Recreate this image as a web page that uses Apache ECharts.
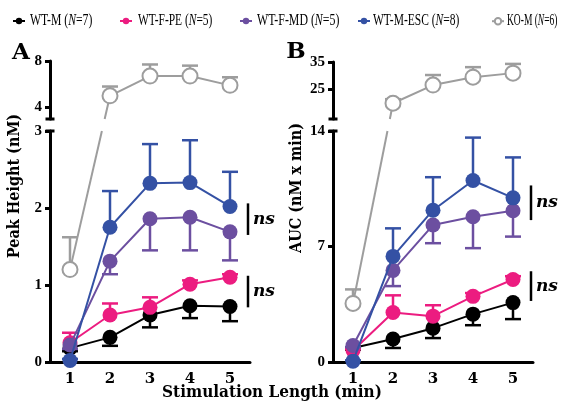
<!DOCTYPE html>
<html>
<head>
<meta charset="UTF-8">
<title>Peak height and AUC</title>
<script type="text/javascript" src="https://cdn.jsdelivr.net/npm/echarts@6/dist/echarts.min.js"></script>
</head>
<body style="margin:0;background:#fff">
<div id="box" style="width:561px;height:405px;"></div>

<script type="text/javascript">
var cats=['1','2','3','4','5'];
var names=['WT-M','WT-F-PE','WT-F-MD','WT-M-ESC','KO-M'];
var groupN=['7','5','5','8','6'];
var colors=['#000000','#ec1c80','#6c4fa0','#3451a4','#9d9d9d'];
// error bars are one-sided: -1 below the mean, 1 above
var errDir=[-1,1,-1,1,1];

// panel A: peak height (nM)
var peakWtM=[0.18,0.32,0.61,0.73,0.72];
var peakWtFPe=[0.25,0.61,0.71,1.01,1.10];
var peakWtFMd=[0.22,1.31,1.86,1.88,1.69];
var peakWtMEsc=[0.02,1.75,2.32,2.33,2.02];
var peakKoM=[1.2,5.0,6.7,6.7,5.9];
var peakWtMErr=[0.04,0.11,0.16,0.16,0.19];
var peakWtFPeErr=[0.13,0.15,0.13,0.05,0.04];
var peakWtFMdErr=[0.05,0.17,0.41,0.43,0.37];
var peakWtMEscErr=[0.02,0.47,0.51,0.55,0.45];
var peakKoMErr=[0.42,0.8,1.0,0.9,0.7];

// panel B: AUC (nM x min)
var aucWtM=[0.85,1.39,2.05,2.9,3.6];
var aucWtFPe=[0.7,3.0,2.78,3.98,5.0];
var aucWtFMd=[1.0,5.55,8.3,8.8,9.17];
var aucWtMEsc=[0.05,6.4,9.2,11.0,9.95];
var aucKoM=[3.55,19.8,26.5,29.4,30.9];
var aucWtMErr=[0.1,0.54,0.6,0.67,1.0];
var aucWtFPeErr=[0.1,1.04,0.66,0.2,0.2];
var aucWtFMdErr=[0.1,0.95,1.1,1.9,1.57];
var aucWtMEscErr=[0.05,1.7,2.0,2.6,2.45];
var aucKoMErr=[0.85,1.5,3.7,3.7,3.4];

// axis breaks: [lower max, upper min, upper max]
var peakBreak=[3,3,8];
var aucBreak=[14,14,35];
var peakUpperTicks=[4,8];
var aucUpperTicks=[25,35];
var peakLowerInterval=1;
var aucLowerInterval=7;

// "ns" brackets: [low, high] at the right of the last point
var peakNs=[[1.65,2.06],[0.71,1.12]];
var aucNs=[[8.6,10.7],[3.7,5.5]];

var serif='"DejaVu Serif", serif';
var serifC='"DejaVu Serif Condensed", "DejaVu Serif", serif';
var times='"Liberation Serif", serif';

var mychart=echarts.init(document.getElementById('box'));

function lineSeries(i,data,grid,z){
  var gray=(i==4);
  return {
    name:names[i],type:'line',xAxisIndex:grid,yAxisIndex:grid,
    data:data,symbol:'circle',symbolSize:15,z:z,
    connectNulls:false,
    lineStyle:{color:colors[i],width:2},
    itemStyle:gray?{color:'#ffffff',borderColor:colors[i],borderWidth:2}:{color:colors[i]}
  };
}

function errSeries(i,means,errs,grid,z){
  var d=[];
  for(var k=0;k<means.length;k++){
    if(means[k]!=null) d.push([k,means[k],errs[k]]);
  }
  return {
    type:'custom',xAxisIndex:grid,yAxisIndex:grid,z:z,silent:true,
    data:d,
    renderItem:function(params,api){
      var x=api.value(0),m=api.value(1),e=api.value(2);
      var p0=api.coord([x,m]);
      var p1=api.coord([x,m+errDir[i]*e]);
      var st={stroke:colors[i],lineWidth:2.5};
      return {type:'group',children:[
        {type:'line',shape:{x1:p0[0],y1:p0[1],x2:p1[0],y2:p1[1]},style:st},
        {type:'line',shape:{x1:p1[0]-8,y1:p1[1],x2:p1[0]+8,y2:p1[1]},style:st}
      ]};
    }
  };
}

function splitUpper(arr){ return arr.map(function(v,k){return k==0?null:v;}); }
function splitLower(arr){ return arr.map(function(v,k){return k==0?v:null;}); }

var peakSets=[peakWtM,peakWtFPe,peakWtFMd,peakWtMEsc];
var peakErrs=[peakWtMErr,peakWtFPeErr,peakWtFMdErr,peakWtMEscErr];
var aucSets=[aucWtM,aucWtFPe,aucWtFMd,aucWtMEsc];
var aucErrs=[aucWtMErr,aucWtFPeErr,aucWtFMdErr,aucWtMEscErr];

var series=[];
// panel A, grids 0 (upper) and 1 (lower)
for(var i=0;i<4;i++){
  series.push(errSeries(i,peakSets[i],peakErrs[i],1,1+i*2));
  series.push(lineSeries(i,peakSets[i],1,2+i*2));
}
series.push(errSeries(4,splitLower(peakKoM),peakKoMErr,1,11));
series.push(lineSeries(4,splitLower(peakKoM),1,12));
series.push(errSeries(4,splitUpper(peakKoM),peakKoMErr,0,11));
series.push(lineSeries(4,splitUpper(peakKoM),0,12));
// panel B, grids 2 (upper) and 3 (lower)
for(var i=0;i<4;i++){
  series.push(errSeries(i,aucSets[i],aucErrs[i],3,1+i*2));
  series.push(lineSeries(i,aucSets[i],3,2+i*2));
}
series.push(errSeries(4,splitLower(aucKoM),aucKoMErr,3,11));
series.push(lineSeries(4,splitLower(aucKoM),3,12));
series.push(errSeries(4,splitUpper(aucKoM),aucKoMErr,2,11));
series.push(lineSeries(4,splitUpper(aucKoM),2,12));

function xAxis(grid,show){
  return {
    type:'category',gridIndex:grid,data:cats,boundaryGap:true,show:show,
    axisLine:{lineStyle:{color:'#000',width:3}},
    axisTick:{alignWithLabel:true,length:6,lineStyle:{color:'#000',width:3}},
    axisLabel:{color:'#000',fontFamily:serif,fontWeight:'bold',fontSize:15,margin:10},
    splitLine:{show:false}
  };
}
function upperY(grid,br,ticks){
  return {
    type:'value',gridIndex:grid,min:br[1],max:br[2],
    axisLine:{show:true,lineStyle:{color:'#000',width:3},symbol:['rect','none'],symbolSize:[9,3]},
    axisTick:{show:true,length:5,customValues:ticks,lineStyle:{color:'#000',width:3}},
    axisLabel:{customValues:ticks,color:'#000',fontFamily:times,fontWeight:'bold',fontSize:15,margin:8},
    splitLine:{show:false}
  };
}
function lowerY(grid,br,iv){
  return {
    type:'value',gridIndex:grid,min:0,max:br[0],interval:iv,
    axisLine:{show:true,lineStyle:{color:'#000',width:3},symbol:['none','rect'],symbolSize:[9,3]},
    axisTick:{show:true,length:5,lineStyle:{color:'#000',width:3}},
    axisLabel:{color:'#000',fontFamily:times,fontWeight:'bold',fontSize:15,margin:8},
    splitLine:{show:false}
  };
}

// legend: icons from the legend component, condensed labels drawn beside them
var legendLeft=[12,119,239,357,491];
var legendTextLeft=[30,138,257,373,507];
var legendTextWidth=[63,75,83,87,51];
var legends=names.map(function(n,i){
  return {
    data:[n],left:legendLeft[i],top:17,padding:0,itemWidth:12,itemHeight:8,itemGap:0,
    selectedMode:false,formatter:function(){ return ''; },
    textStyle:{fontSize:1}
  };
});

mychart.setOption({
  animation:false,
  backgroundColor:'#ffffff',
  legend:legends,
  grid:[
    {left:50,top:61,width:200,height:58},
    {left:50,top:131,width:200,height:231},
    {left:333,top:62,width:200,height:57},
    {left:333,top:131,width:200,height:231}
  ],
  xAxis:[xAxis(0,false),xAxis(1,true),xAxis(2,false),xAxis(3,true)],
  yAxis:[upperY(0,peakBreak,peakUpperTicks),lowerY(1,peakBreak,peakLowerInterval),
         upperY(2,aucBreak,aucUpperTicks),lowerY(3,aucBreak,aucLowerInterval)],
  series:series
});

// pieces placed with the chart's own scales
function px(grid,x,y){ return mychart.convertToPixel({gridIndex:grid},[x,y]); }

function bridge(loGrid,upGrid,arr,br){
  var a=px(loGrid,0,arr[0]);
  var b=px(upGrid,1,arr[1]);
  var yLoTop=px(loGrid,0,br[0])[1];
  var yUpBot=px(upGrid,0,br[1])[1];
  function xAt(y){ return a[0]+(b[0]-a[0])*(a[1]-y)/(a[1]-b[1]); }
  var st={stroke:colors[4],lineWidth:2};
  return [
    {type:'line',z:1,shape:{x1:a[0],y1:a[1],x2:xAt(yLoTop),y2:yLoTop},style:st},
    {type:'line',z:1,shape:{x1:xAt(yUpBot),y1:yUpBot,x2:b[0],y2:b[1]},style:st}
  ];
}

function nsMark(grid,range){
  var lo=px(grid,4,range[0]),hi=px(grid,4,range[1]);
  var x=lo[0]+18;
  return [
    {type:'line',z:20,shape:{x1:x,y1:lo[1],x2:x,y2:hi[1]},style:{stroke:'#000',lineWidth:2.5}},
    {type:'text',z:20,x:x+5,y:(lo[1]+hi[1])/2,
      style:{text:'ns',fill:'#000',font:'italic bold 17px '+serif,
        textAlign:'left',textVerticalAlign:'middle',align:'left',verticalAlign:'middle'}}
  ];
}

function txt(x,y,s,font,rot){
  return {type:'text',x:x,y:y,rotation:rot||0,z:20,
    style:{text:s,fill:'#000',font:font,textAlign:'center',textVerticalAlign:'middle',
      align:'center',verticalAlign:'middle'}};
}

var g=[];
g=g.concat(bridge(1,0,peakKoM,peakBreak));
g=g.concat(bridge(3,2,aucKoM,aucBreak));
g=g.concat(nsMark(1,peakNs[0]),nsMark(1,peakNs[1]));
g=g.concat(nsMark(3,aucNs[0]),nsMark(3,aucNs[1]));
g.push(txt(21,53,'A','bold 23px '+serif));
g.push(txt(296,52,'B','bold 23px '+serif));
g.push(txt(15,186,'Peak Height (nM)','bold 16px '+serifC,Math.PI/2));
g.push(txt(297,188,'AUC (nM x min)','bold 16px '+serifC,Math.PI/2));
g.push(txt(272,393,'Stimulation Length (min)','bold 17px '+serifC));

// squeeze each legend label to the width it has in the figure
var legendFont='17px "Liberation Serif"';
var ctx=document.createElement('canvas').getContext('2d');
ctx.font=legendFont;
names.forEach(function(n,i){
  var s=n+' (N='+groupN[i]+')';
  var sx=legendTextWidth[i]/ctx.measureText(s).width;
  g.push({type:'text',x:legendTextLeft[i],y:21,scaleX:sx,z:20,
    style:{text:n+' ({i|N}='+groupN[i]+')',fill:'#000',font:legendFont,
      textAlign:'left',textVerticalAlign:'middle',align:'left',verticalAlign:'middle',
      rich:{i:{fontStyle:'italic',fontFamily:times,fontSize:17,fill:'#000'}}}});
});

mychart.setOption({graphic:g});
</script>
</body>
</html>
